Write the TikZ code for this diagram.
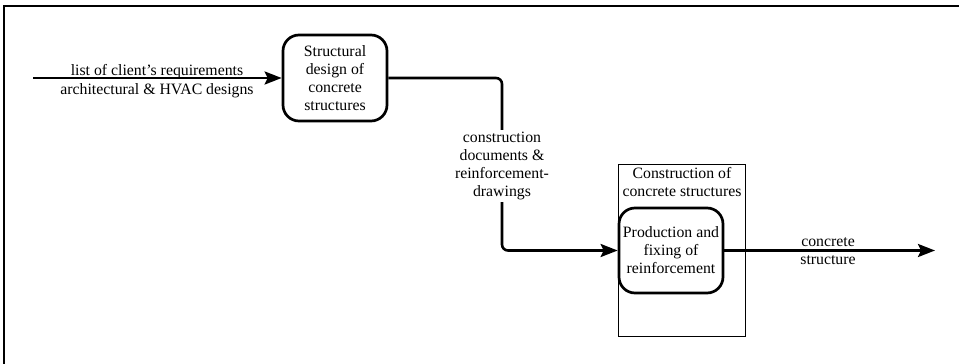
\documentclass[tikz,border=0pt]{standalone}
\usepackage{fontspec}
\setmainfont{Liberation Serif}
\usetikzlibrary{arrows.meta}
\begin{document}
\begin{tikzpicture}[x=1pt,y=-1pt,
  txt/.style={font=\fontsize{15.8}{18}\selectfont, inner sep=0pt, align=center},
  proc/.style={txt, draw, line width=2.7pt, rounded corners=16pt},
  wire/.style={line width=2.6pt, rounded corners=6pt},
  flow/.style={wire, -{Stealth[length=17pt,width=13pt,inset=3pt]}},
  stage/.style={draw, line width=1pt, inner sep=0pt}
]
\useasboundingbox (0,0) rectangle (959,364);

% surrounding frame (only its left and top edges lie inside the page)
\begin{scope}
  \clip (0,0) rectangle (959,364);
  \draw[line width=2.4pt] (4,380) -- (4,6) -- (980,6);
\end{scope}

% design process
\node[proc, minimum width=104pt, minimum height=86pt] (design) at (335,78)
  {Structural\\design of\\concrete\\structures};

% inputs
\coordinate (src) at (33,78);
\draw[flow] (src) -- (design.west);
\node[txt, anchor=base] (req1) at (157,75.5) {list of client's requirements};
\node[txt, anchor=base] (req2) at (157,94) {architectural \& HVAC designs};

% construction stage with its sub-process
\node[stage, minimum width=127pt, minimum height=172pt] (cons) at (682,250) {};
\node[txt, anchor=north] (constitle) at (682,167) {Construction of\\concrete structures};
\node[proc, minimum width=104pt, minimum height=85pt] (fix) at (671,250.5)
  {Production and\\fixing of\\reinforcement};

% documents passed from design to construction
\node[txt, inner sep=2pt] (docs) at (502,166)
  {construction\\documents \&\\reinforcement-\\drawings};
\draw[wire] (design.east) -| (docs.north);
\draw[flow] (docs.south) |- (fix.west);

% output
\coordinate (sink) at (935,250.5);
\draw[flow] (fix.east) -- (sink);
\node[txt, anchor=base] (out1) at (828,246) {concrete};
\node[txt, anchor=base] (out2) at (828,264) {structure};
\end{tikzpicture}
\end{document}
